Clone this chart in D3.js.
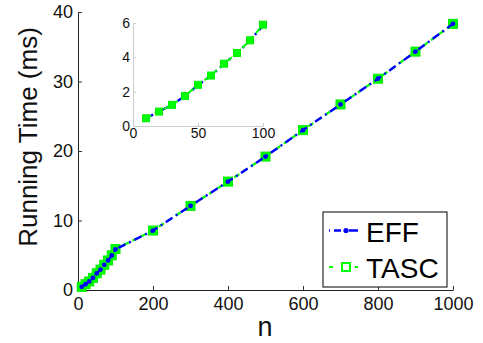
<!DOCTYPE html>
<html>
<head>
<meta charset="utf-8">
<script src="https://cdn.jsdelivr.net/npm/d3@7"></script>
<style>
  body { margin: 0; background: #fff; }
  svg text { font-family: "Liberation Sans", Arial, sans-serif; }
</style>
</head>
<body>
<div id="chart"></div>
<script>
// problem sizes
var nValues = [10, 20, 30, 40, 50, 60, 70, 80, 90, 100, 200, 300, 400, 500, 600, 700, 800, 900, 1000];
// running time (ms)
var effTimes  = [0.45, 0.84, 1.23, 1.75, 2.38, 2.94, 3.62, 4.25, 4.98, 5.85, 8.55, 12.1, 15.6, 19.2, 23.0, 26.7, 30.4, 34.3, 38.3];
var tascTimes = [0.45, 0.84, 1.23, 1.75, 2.40, 2.94, 3.63, 4.25, 4.99, 5.9, 8.55, 12.1, 15.6, 19.2, 23.0, 26.7, 30.4, 34.3, 38.3];
var seriesNames = ["EFF", "TASC"];
var xTicks = [0, 200, 400, 600, 800, 1000];
var yTicks = [0, 10, 20, 30, 40];
var insetXTicks = [0, 50, 100];
var insetYTicks = [0, 2, 4, 6];

var width = 483, height = 343;
var svg = d3.select("#chart").append("svg")
  .attr("width", width)
  .attr("height", height);

var eff = nValues.map(function(n, i) { return {n: n, t: effTimes[i]}; });
var tasc = nValues.map(function(n, i) { return {n: n, t: tascTimes[i]}; });
var fmt = d3.format("d");

// main axes
var x = d3.scaleLinear().domain([0, 1000]).range([78, 453]);
var y = d3.scaleLinear().domain([0, 40]).range([290, 12]);

var xAxis = svg.append("g")
  .attr("transform", "translate(0," + y(0) + ")")
  .call(d3.axisBottom(x).tickValues(xTicks).tickFormat(fmt).tickSizeInner(-4).tickSizeOuter(0).tickPadding(7));
var yAxis = svg.append("g")
  .attr("transform", "translate(" + x(0) + ",0)")
  .call(d3.axisLeft(y).tickValues(yTicks).tickFormat(fmt).tickSizeInner(-4).tickSizeOuter(0).tickPadding(5));
[xAxis, yAxis].forEach(function(g) {
  g.selectAll("text").attr("font-size", 18).attr("fill", "#111")
    .style("font-family", "Liberation Sans, Arial, sans-serif");
  g.selectAll("line").attr("stroke", "#333");
  g.select(".domain").attr("stroke", "#222");
});

svg.append("text")
  .attr("transform", "translate(37," + 137 + ") rotate(-90)")
  .attr("text-anchor", "middle")
  .attr("font-size", 26)
  .attr("fill", "#111")
  .text("Running Time (ms)");

svg.append("text")
  .attr("x", 265)
  .attr("y", 336)
  .attr("text-anchor", "middle")
  .attr("font-size", 27)
  .attr("fill", "#111")
  .text("n");

function drawSeries(g, xs, ys, data, kind, sq, dotR, lw) {
  var line = d3.line().x(function(d) { return xs(d.n); }).y(function(d) { return ys(d.t); });
  if (kind == "tasc") {
    g.append("path").datum(data)
      .attr("d", line)
      .attr("fill", "none")
      .attr("stroke", "#00ff00")
      .attr("stroke-width", lw)
      .attr("stroke-dasharray", "6,4");
    g.selectAll(".sq").data(data).enter().append("rect")
      .attr("class", "sq")
      .attr("x", function(d) { return xs(d.n) - sq / 2; })
      .attr("y", function(d) { return ys(d.t) - sq / 2; })
      .attr("width", sq)
      .attr("height", sq)
      .attr("fill", "#00ff00")
      .attr("stroke", "#00ee00")
      .attr("stroke-width", 1);
  } else {
    g.append("path").datum(data)
      .attr("d", line)
      .attr("fill", "none")
      .attr("stroke", "#0000ff")
      .attr("stroke-width", lw)
      .attr("stroke-dasharray", "8,4,2,4");
    g.selectAll(".dot").data(data).enter().append("circle")
      .attr("class", "dot")
      .attr("cx", function(d) { return xs(d.n); })
      .attr("cy", function(d) { return ys(d.t); })
      .attr("r", dotR)
      .attr("fill", "#0000ff");
  }
}

var mainG = svg.append("g");
drawSeries(mainG.append("g"), x, y, tasc, "tasc", 9, 2.4, 2.2);
drawSeries(mainG.append("g"), x, y, eff, "eff", 9, 2.4, 2.4);

// inset
var xi = d3.scaleLinear().domain([0, 100]).range([133, 263]);
var yi = d3.scaleLinear().domain([0, 6]).range([126, 23]);

var inset = svg.append("g");
var ixAxis = inset.append("g")
  .attr("transform", "translate(0," + yi(0) + ")")
  .call(d3.axisBottom(xi).tickValues(insetXTicks).tickFormat(fmt).tickSizeInner(-3).tickSizeOuter(0).tickPadding(2));
var iyAxis = inset.append("g")
  .attr("transform", "translate(" + xi(0) + ",0)")
  .call(d3.axisLeft(yi).tickValues(insetYTicks).tickFormat(fmt).tickSizeInner(-3).tickSizeOuter(0).tickPadding(3));
[ixAxis, iyAxis].forEach(function(g) {
  g.selectAll("text").attr("font-size", 14).attr("fill", "#111")
    .style("font-family", "Liberation Sans, Arial, sans-serif");
  g.selectAll("line").attr("stroke", "#ccc");
  g.select(".domain").attr("stroke", "#ccc");
});

// in the inset the green squares sit on top
var insetData = function(arr) { return arr.filter(function(d) { return d.n <= 100; }); };
drawSeries(inset.append("g"), xi, yi, insetData(eff), "eff", 7, 1.7, 2.4);
drawSeries(inset.append("g"), xi, yi, insetData(tasc), "tasc", 7, 1.7, 2);

// legend
var legend = svg.append("g");
legend.append("rect")
  .attr("x", 323).attr("y", 212)
  .attr("width", 124).attr("height", 75)
  .attr("fill", "#fff")
  .attr("stroke", "#000")
  .attr("stroke-width", 1);

var legendRows = [230.5, 267];
seriesNames.forEach(function(name, i) {
  var ly = legendRows[i];
  if (name == "EFF") {
    legend.append("line")
      .attr("x1", 329).attr("x2", 358).attr("y1", ly).attr("y2", ly)
      .attr("stroke", "#0000ff").attr("stroke-width", 2.4)
      .attr("stroke-dasharray", "1,4,7,3,2,3,9");
    legend.append("circle")
      .attr("cx", 346).attr("cy", ly).attr("r", 2.6).attr("fill", "#0000ff");
  } else {
    legend.append("line")
      .attr("x1", 329).attr("x2", 358).attr("y1", ly).attr("y2", ly)
      .attr("stroke", "#00ff00").attr("stroke-width", 2)
      .attr("stroke-dasharray", "4,8,6,8,4");
    legend.append("rect")
      .attr("x", 342).attr("y", ly - 4).attr("width", 8).attr("height", 8)
      .attr("fill", "#fff").attr("stroke", "#00ff00").attr("stroke-width", 2);
  }
  legend.append("text")
    .attr("x", 366)
    .attr("y", ly + 11)
    .attr("font-size", 28)
    .attr("fill", "#000")
    .text(name);
});
</script>
</body>
</html>
